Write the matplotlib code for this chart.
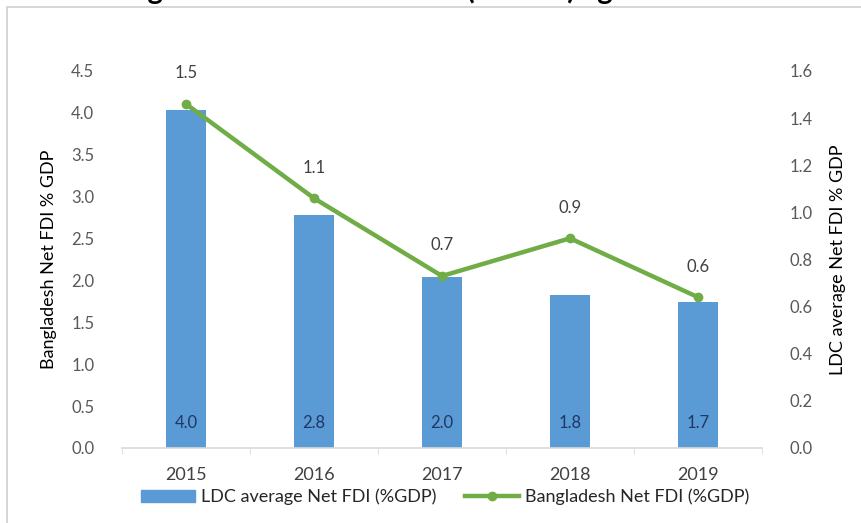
import matplotlib.pyplot as plt
import matplotlib.patches as mpatches
from matplotlib.lines import Line2D
import numpy as np

plt.rcParams['font.family'] = ['Lato', 'DejaVu Sans']

years = ['2015', '2016', '2017', '2018', '2019']
ldc_fdi = [4.04, 2.78, 2.04, 1.83, 1.74]      # LDC average, left axis
bd_fdi = [1.46, 1.06, 0.73, 0.89, 0.64]       # Bangladesh, right axis

left_ticks = [0.0, 0.5, 1.0, 1.5, 2.0, 2.5, 3.0, 3.5, 4.0, 4.5]
right_ticks = [0.0, 0.2, 0.4, 0.6, 0.8, 1.0, 1.2, 1.4, 1.6]

bar_col = '#5b9bd5'
line_col = '#70ad47'
tick_col = '#595959'

fig = plt.figure(figsize=(8.61, 5.23), dpi=100)

# outer chart frame
frame = mpatches.Rectangle((7 / 861, -0.05), 1.1, 1 - 7 / 523 + 0.05,
                           transform=fig.transFigure, fill=False,
                           edgecolor='#d0d0d0', linewidth=1.2)
fig.patches.append(frame)

# title sits above the frame, mostly cut off
fig.text(97 / 861, 1.0 - 4 / 523, 'Bangladesh Net FDI Inflows (% GDP) against LDCs',
         ha='left', va='bottom', fontsize=21, fontweight='bold')

ax = fig.add_axes([122 / 861, 75 / 523, 640 / 861, 377 / 523])
x = np.arange(len(years))

ax.bar(x, ldc_fdi, width=0.31, color=bar_col, zorder=2)
ax.set_ylim(0, 4.5)
ax.set_xlim(-0.5, len(years) - 0.5)
ax.set_yticks(left_ticks)
ax.set_yticklabels([f'{v:.1f}' for v in left_ticks])
ax.set_ylabel('Bangladesh Net FDI % GDP', fontsize=13, color='black', labelpad=10)

for xi, v in zip(x, ldc_fdi):
    ax.text(xi, 0.3, f'{v:.1f}', ha='center', va='center', fontsize=12,
            color='#1f3864', zorder=3)

ax.set_xticks(x)
ax.set_xticklabels(years, fontsize=13, color='#404040')
ax.set_xticks(np.arange(-0.5, len(years)), minor=True)
ax.tick_params(axis='x', which='major', length=0, pad=14)
ax.tick_params(axis='x', which='minor', length=4, color='#d9d9d9')
ax.tick_params(axis='y', length=0, labelsize=12, labelcolor=tick_col, pad=20)

for s in ['top', 'left', 'right']:
    ax.spines[s].set_visible(False)
ax.spines['bottom'].set_color('#d9d9d9')
ax.spines['bottom'].set_linewidth(1.2)

ax2 = ax.twinx()
ax2.plot(x, bd_fdi, color=line_col, linewidth=3.2, marker='o', markersize=6,
         zorder=4)
ax2.set_ylim(0, 1.6)
ax2.set_yticks(right_ticks)
ax2.set_yticklabels([f'{v:.1f}' for v in right_ticks])
ax2.tick_params(axis='y', length=0, labelsize=12, labelcolor=tick_col, pad=20)
ax2.set_ylabel('LDC average Net FDI % GDP', fontsize=13, labelpad=12)
for s in ['top', 'left', 'right', 'bottom']:
    ax2.spines[s].set_visible(False)

for xi, v in zip(x, bd_fdi):
    ax2.annotate(f'{v:.1f}', (xi, v), xytext=(0, 22), textcoords='offset points',
                 ha='center', va='center', fontsize=12, color='#404040')

handles = [mpatches.Patch(color=bar_col),
           Line2D([0], [0], color=line_col, linewidth=3.2, marker='o', markersize=6)]
fig.legend(handles, ['LDC average Net FDI (%GDP)', 'Bangladesh Net FDI (%GDP)'],
           loc='center', bbox_to_anchor=(445 / 861, 1 - 497 / 523), ncol=2,
           frameon=False, fontsize=13, handlelength=3.0, handletextpad=0.3,
           columnspacing=1.6, labelcolor='#262626')

fig.savefig('out.png', dpi=100)
